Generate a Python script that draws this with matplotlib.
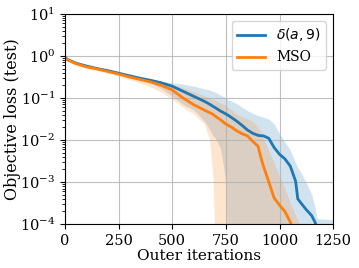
import numpy as np
import matplotlib
matplotlib.use("Agg")
import matplotlib.pyplot as plt

plt.rcParams['font.family'] = ['DejaVu Serif']

# x grid (outer iterations)
x = [0, 10, 50, 100, 150, 200, 250, 300, 350, 400, 450, 500, 550, 600, 650,
     675, 690, 700, 725, 750, 760, 775, 800, 825, 850, 875, 900, 915, 925, 950,
     975, 1000, 1025, 1050, 1075, 1085, 1100, 1125, 1150, 1165, 1175, 1200, 1250]

# log10 values (-5 means below the axis floor)
blue_mean = [-0.02, -0.08, -0.17, -0.24, -0.30, -0.35, -0.41, -0.47, -0.53, -0.58, -0.64, -0.72, -0.84, -0.96, -1.08,
             -1.15, -1.20, -1.23, -1.31, -1.38, -1.41, -1.46, -1.55, -1.65, -1.76, -1.84, -1.89, -1.90, -1.90, -1.96,
             -2.18, -2.34, -2.45, -2.62, -2.98, -3.40, -3.50, -3.66, -3.80, -3.95, -4.10, -5.0, -5.0]
blue_lo = [-0.04, -0.11, -0.19, -0.26, -0.32, -0.37, -0.43, -0.50, -0.57, -0.65, -0.78, -0.95, -1.15, -1.28, -1.55,
           -1.75, -1.90, -1.95, -2.20, -3.00, -5.0, -5.0, -5.0, -5.0, -5.0, -5.0, -5.0, -5.0, -5.0, -5.0,
           -5.0, -5.0, -5.0, -5.0, -5.0, -5.0, -5.0, -5.0, -5.0, -5.0, -5.0, -5.0, -5.0]
blue_hi = [-0.01, -0.06, -0.15, -0.22, -0.28, -0.33, -0.38, -0.44, -0.50, -0.55, -0.60, -0.64, -0.67, -0.72, -0.78,
           -0.81, -0.84, -0.86, -0.93, -1.00, -1.04, -1.07, -1.13, -1.22, -1.30, -1.36, -1.42, -1.44, -1.46, -1.50,
           -1.62, -1.85, -2.05, -2.24, -2.55, -2.65, -2.78, -3.02, -3.30, -3.60, -3.87, -3.88, -3.90]

orange_mean = [-0.03, -0.09, -0.18, -0.26, -0.31, -0.37, -0.43, -0.50, -0.56, -0.62, -0.70, -0.81, -1.00, -1.16, -1.29,
               -1.35, -1.39, -1.43, -1.52, -1.62, -1.65, -1.69, -1.78, -1.85, -1.90, -2.03, -2.15, -2.45, -2.62, -3.00,
               -3.38, -3.55, -3.70, -3.95, -4.30, -5.0, -5.0, -5.0, -5.0, -5.0, -5.0, -5.0, -5.0]
orange_lo = [-0.05, -0.12, -0.21, -0.29, -0.35, -0.41, -0.48, -0.56, -0.64, -0.74, -0.86, -1.03, -1.22, -1.38, -1.62,
             -2.00, -2.90, -4.50, -5.0, -5.0, -5.0, -5.0, -5.0, -5.0, -5.0, -5.0, -5.0, -5.0, -5.0, -5.0,
             -5.0, -5.0, -5.0, -5.0, -5.0, -5.0, -5.0, -5.0, -5.0, -5.0, -5.0, -5.0, -5.0]
orange_hi = [-0.01, -0.07, -0.16, -0.24, -0.29, -0.34, -0.39, -0.46, -0.52, -0.57, -0.62, -0.68, -0.76, -0.85, -0.95,
             -1.00, -1.03, -1.05, -1.12, -1.18, -1.22, -1.28, -1.38, -1.44, -1.50, -1.55, -1.70, -1.82, -1.95, -2.25,
             -2.55, -2.85, -3.15, -3.50, -3.80, -3.90, -4.10, -5.0, -5.0, -5.0, -5.0, -5.0, -5.0]

labels = [r'$\delta(a,9)$', 'MSO']
colors = ['#1f77b4', '#ff7f0e']

fig = plt.figure(figsize=(3.59, 2.68), dpi=100)
ax = fig.add_axes([0.181, 0.164, 0.747, 0.784])

xs = np.array(x)
series = [(blue_mean, blue_lo, blue_hi), (orange_mean, orange_lo, orange_hi)]
for (m, lo, hi), lab, c in zip(series, labels, colors):
    ax.fill_between(xs, 10.0 ** np.array(lo), 10.0 ** np.array(hi), color=c, alpha=0.2, linewidth=0)
    ax.plot(xs, 10.0 ** np.array(m), color=c, lw=2, label=lab)

ax.set_yscale('log')
ax.set_xlim(0, 1250)
ax.set_ylim(1e-4, 1e1)
ax.set_xticks([0, 250, 500, 750, 1000, 1250])
ax.set_yticks([1e-4, 1e-3, 1e-2, 1e-1, 1e0, 1e1])
ax.grid(True, which='major', color='#b0b0b0', lw=0.8, alpha=0.8)
ax.tick_params(labelsize=10.5)
ax.set_xlabel('Outer iterations', fontsize=11, labelpad=1)
ax.set_ylabel('Objective loss (test)', fontsize=11.5)
ax.yaxis.set_label_coords(-0.165, 0.5)
ax.legend(loc='upper right', fontsize=10, framealpha=0.8, handlelength=2)

fig.savefig('out.png', dpi=100)
